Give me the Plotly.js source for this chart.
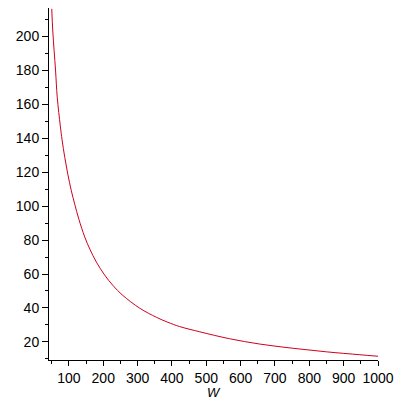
<!DOCTYPE html>
<html>
<head>
<meta charset="utf-8">
<script src="https://cdn.plot.ly/plotly-3.0.1.min.js"></script>
<style>
  html, body { margin: 0; padding: 0; background: #fff; }
  #plot { width: 400px; height: 400px; }
</style>
</head>
<body>
<div id="plot"></div>
<script>
// values
var W = [50, 53, 61, 66, 75, 80, 88, 97, 107, 117, 129, 146, 161, 180, 204, 228, 257, 306, 355, 388, 422, 481, 568, 655, 752, 850, 947, 1000];
var val = [216, 203, 180, 164, 147, 139, 128.5, 118.5, 109, 101, 92.2, 81.8, 74.6, 67, 59.4, 53.3, 47.4, 39.9, 34.5, 31.6, 29.1, 26, 21.9, 18.8, 16.3, 14.2, 12.5, 11.6];
var xTitle = 'W';

var curve = {
  x: W,
  y: val,
  type: 'scatter',
  mode: 'lines',
  line: {color: '#d0001c', width: 1, shape: 'spline', smoothing: 1},
  hoverinfo: 'x+y'
};

var tickFont = {family: 'Liberation Sans, Arial, sans-serif', size: 14, color: '#000'};

var layout = {
  width: 400,
  height: 400,
  margin: {l: 49, r: 22, t: 8, b: 40},
  paper_bgcolor: '#fff',
  plot_bgcolor: '#fff',
  showlegend: false,
  xaxis: {
    range: [42, 1000],
    tick0: 0,
    dtick: 100,
    ticks: 'outside',
    ticklen: 5,
    tickcolor: '#000',
    showline: true,
    linecolor: '#000',
    linewidth: 1,
    showgrid: false,
    zeroline: false,
    tickfont: tickFont,
    minor: {dtick: 50, ticks: 'outside', ticklen: 3, tickcolor: '#000', showgrid: false}
  },
  yaxis: {
    range: [9.4, 216.5],
    tick0: 0,
    dtick: 20,
    ticks: 'outside',
    ticklen: 6,
    tickcolor: '#000',
    showline: true,
    linecolor: '#000',
    linewidth: 1,
    showgrid: false,
    zeroline: false,
    tickfont: tickFont,
    minor: {dtick: 10, ticks: 'outside', ticklen: 3, tickcolor: '#000', showgrid: false}
  },
  annotations: [{
    text: '<i>' + xTitle + '</i>',
    xref: 'paper', yref: 'paper',
    x: 0.5, y: 0,
    xanchor: 'center', yanchor: 'top',
    yshift: -23,
    showarrow: false,
    font: {family: 'Liberation Sans, Arial, sans-serif', size: 13, color: '#000'}
  }]
};

Plotly.newPlot('plot', [curve], layout, {displayModeBar: false});
</script>
</body>
</html>
